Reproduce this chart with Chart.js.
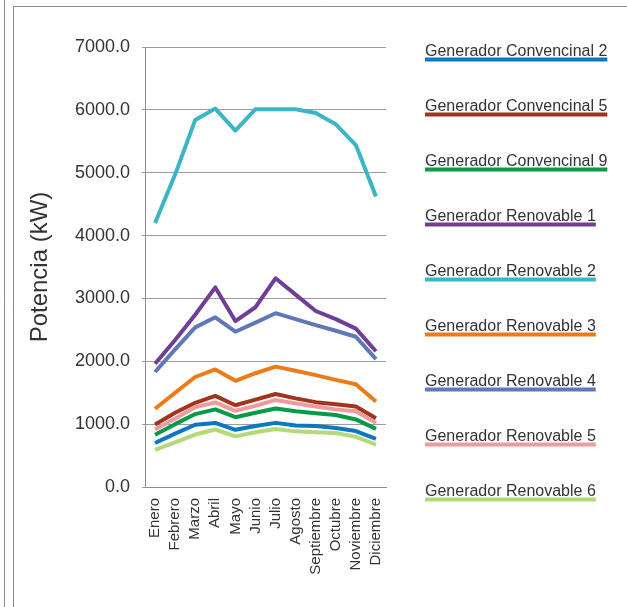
<!DOCTYPE html>
<html>
<head>
<meta charset="utf-8">
<script src="https://cdn.jsdelivr.net/npm/chart.js"></script>
<style>
  body { margin: 0; background: #fff; }
  #grafico { display: block; }
</style>
</head>
<body>
<canvas id="grafico" width="627" height="607"></canvas>
<script>
// dados (kW por mes)
var meses = ['Enero', 'Febrero', 'Marzo', 'Abril', 'Mayo', 'Junio', 'Julio', 'Agosto', 'Septiembre', 'Octubre', 'Noviembre', 'Diciembre'];
var convencional2 = [700, 850, 990, 1020, 910, 970, 1020, 980, 970, 940, 890, 765];
var convencional5 = [995, 1180, 1340, 1450, 1300, 1390, 1480, 1410, 1350, 1315, 1280, 1095];
var convencional9 = [830, 1000, 1160, 1235, 1110, 1180, 1250, 1205, 1175, 1145, 1075, 925];
var renovable1 = [1960, 2340, 2740, 3175, 2640, 2860, 3320, 3060, 2800, 2670, 2520, 2160];
var renovable2 = [4200, 4970, 5840, 6020, 5670, 6010, 6010, 6010, 5950, 5770, 5440, 4620];
var renovable3 = [1245, 1500, 1750, 1870, 1690, 1810, 1915, 1850, 1780, 1705, 1635, 1360];
var renovable4 = [1830, 2190, 2540, 2700, 2470, 2615, 2765, 2670, 2575, 2485, 2390, 2035];
var renovable5 = [915, 1090, 1270, 1345, 1212, 1290, 1385, 1330, 1280, 1235, 1205, 1020];
var renovable6 = [590, 710, 835, 915, 805, 870, 923, 885, 870, 858, 797, 675];
var ticksY = [0, 1000, 2000, 3000, 4000, 5000, 6000, 7000];

var nomes = ['Generador Convencinal 2', 'Generador Convencinal 5', 'Generador Convencinal 9',
  'Generador Renovable 1', 'Generador Renovable 2', 'Generador Renovable 3',
  'Generador Renovable 4', 'Generador Renovable 5', 'Generador Renovable 6'];
var series = [convencional2, convencional5, convencional9, renovable1, renovable2, renovable3, renovable4, renovable5, renovable6];
var cores = ['#0b78c2', '#a0341f', '#079a47', '#6f3f97', '#3db5c4', '#ec7b1a', '#6078b8', '#ef9a9c', '#b3d97a'];

Chart.defaults.font.family = '"Liberation Sans", Arial, sans-serif';
Chart.defaults.color = '#333';

// moldura cinza do print original
var moldura = {
  id: 'moldura',
  beforeDraw: function (chart) {
    var ctx = chart.ctx;
    ctx.save();
    ctx.fillStyle = '#fff';
    ctx.fillRect(0, 0, chart.width, chart.height);
    ctx.strokeStyle = '#8c8c8c';
    ctx.lineWidth = 1;
    ctx.beginPath();
    ctx.moveTo(4.5, 0);
    ctx.lineTo(4.5, chart.height);
    ctx.moveTo(13.5, chart.height);
    ctx.lineTo(13.5, 6.5);
    ctx.lineTo(chart.width, 6.5);
    ctx.stroke();
    ctx.restore();
  }
};

// legenda do lado direito: texto com a linha embaixo
var legendaLateral = {
  id: 'legendaLateral',
  afterDraw: function (chart) {
    var ctx = chart.ctx;
    ctx.save();
    ctx.font = '16px "Liberation Sans", Arial, sans-serif';
    ctx.textBaseline = 'alphabetic';
    chart.data.datasets.forEach(function (ds, i) {
      var y = 56 + 55 * i;
      var largura = ctx.measureText(ds.label).width;
      ctx.fillStyle = '#333';
      ctx.fillText(ds.label, 425, y);
      ctx.fillStyle = ds.borderColor;
      ctx.fillRect(425, y + 1.5, largura, 4);
    });
    ctx.restore();
  }
};

var datasets = [];
for (var i = 0; i < series.length; i++) {
  datasets.push({
    label: nomes[i],
    data: series[i],
    borderColor: cores[i],
    backgroundColor: cores[i],
    borderWidth: 4,
    pointRadius: 0,
    tension: 0,
    fill: false,
    borderJoinStyle: 'round',
    order: -i
  });
}

var ctx = document.getElementById('grafico').getContext('2d');
var grafico = new Chart(ctx, {
  type: 'line',
  data: {
    labels: meses,
    datasets: datasets
  },
  options: {
    responsive: false,
    animation: false,
    devicePixelRatio: 1,
    layout: {
      padding: { top: 47, right: 241, bottom: 0, left: 0 }
    },
    plugins: {
      legend: { display: false },
      tooltip: { enabled: false }
    },
    scales: {
      x: {
        offset: true,
        grid: { display: false, drawTicks: false },
        border: { display: true, color: '#8c8c8c', width: 1 },
        ticks: {
          font: { size: 15 },
          color: '#333',
          minRotation: 90,
          maxRotation: 90,
          autoSkip: false,
          padding: 11
        },
        afterFit: function (scale) {
          scale.height = 120;
        }
      },
      y: {
        min: 0,
        max: 7000,
        grid: { color: '#9c9c9c', lineWidth: 1, tickLength: 3 },
        border: { display: true, color: '#8c8c8c', width: 1 },
        ticks: {
          font: { size: 18 },
          color: '#333',
          padding: 12,
          callback: function (valor) {
            return valor.toFixed(1);
          }
        },
        afterBuildTicks: function (scale) {
          scale.ticks = ticksY.map(function (v) { return { value: v }; });
        },
        title: {
          display: true,
          text: 'Potencia (kW)',
          font: { size: 24 },
          color: '#333',
          padding: { top: 26, bottom: 0 }
        },
        afterFit: function (scale) {
          scale.width = 145;
        }
      }
    }
  },
  plugins: [moldura, legendaLateral]
});
</script>
</body>
</html>
